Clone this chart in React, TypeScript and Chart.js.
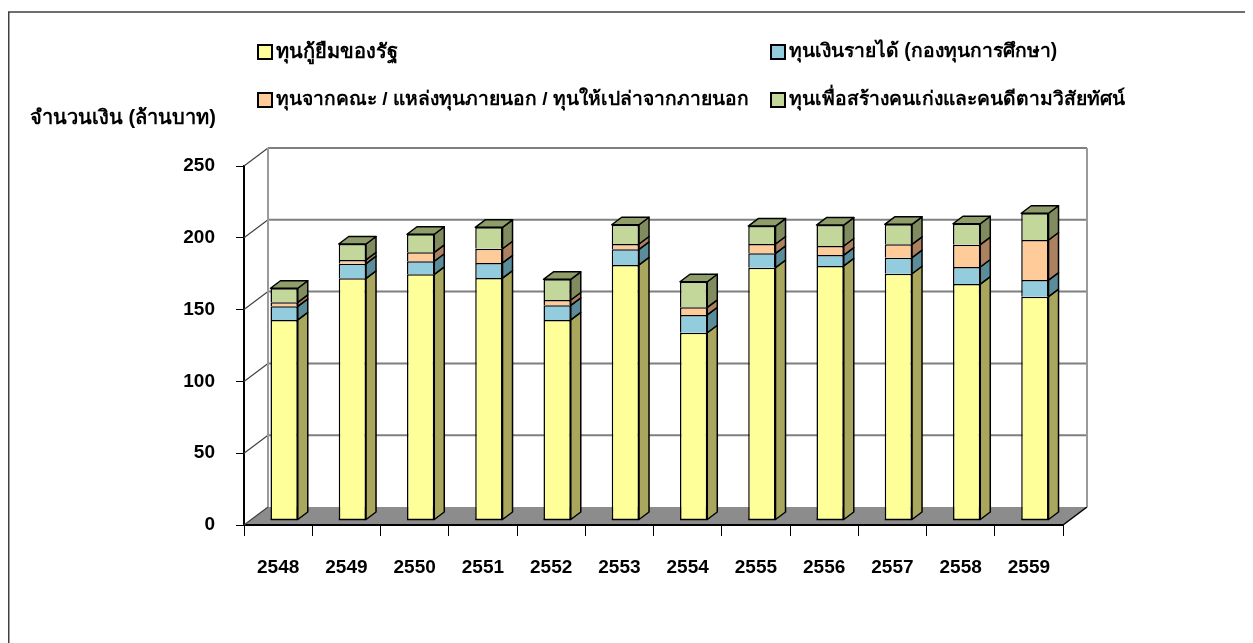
import React, { useEffect, useRef } from "react";
import { Chart, registerables } from "chart.js";

Chart.register(...registerables);

const categories = ["2548", "2549", "2550", "2551", "2552", "2553", "2554", "2555", "2556", "2557", "2558", "2559"];
const loanFund = [139.3, 168.3, 171.1, 168.5, 139.3, 177.6, 130.4, 175.7, 176.9, 171.5, 164.3, 155.5];
const incomeFund = [9.5, 10.2, 9.1, 10.5, 10.2, 10.9, 12.4, 10.0, 7.6, 11.2, 11.9, 11.6];
const externalFund = [2.8, 2.6, 6.2, 9.9, 3.7, 3.7, 5.3, 6.5, 6.3, 9.3, 15.5, 27.9];
const goodPeopleFund = [9.8, 11.1, 12.6, 14.9, 14.4, 13.4, 17.8, 12.5, 14.6, 13.9, 14.6, 18.6];
const yTicks = [0, 50, 100, 150, 200, 250];

const seriesLabels = [
  "ทุนกู้ยืมของรัฐ",
  "ทุนเงินรายได้ (กองทุนการศึกษา)",
  "ทุนจากคณะ / แหล่งทุนภายนอก / ทุนให้เปล่าจากภายนอก",
  "ทุนเพื่อสร้างคนเก่งและคนดีตามวิสัยทัศน์",
];
const yTitle = "จำนวนเงิน (ล้านบาท)";

const frontColors = ["#FFFF99", "#93CDDD", "#FFCC99", "#C4D79B"];
const sideColors = ["#A9A75E", "#5B8C9A", "#AB8160", "#808C60"];
const topColor = "#8F9D6A";

const FONT = '"Liberation Sans", Arial, sans-serif';

const W = 1245;
const H = 635;
const DX = 24;
const DY = 18;
const BX = 10;
const BY = 7.5;

const excel3d = {
  id: "excel3d",
  beforeDatasetsDraw(chart: any) {
    const { ctx, chartArea: a, scales } = chart;
    const y = scales.y;
    ctx.save();
    // frame
    ctx.strokeStyle = "#404040";
    ctx.lineWidth = 1.5;
    ctx.beginPath();
    ctx.moveTo(0.75, H);
    ctx.lineTo(0.75, 4);
    ctx.lineTo(W, 4);
    ctx.stroke();
    // floor
    ctx.fillStyle = "#8C8C8C";
    ctx.beginPath();
    ctx.moveTo(a.left, a.bottom);
    ctx.lineTo(a.right, a.bottom);
    ctx.lineTo(a.right + DX, a.bottom - DY);
    ctx.lineTo(a.left + DX, a.bottom - DY);
    ctx.closePath();
    ctx.fill();
    ctx.strokeStyle = "#000";
    ctx.lineWidth = 1.5;
    ctx.beginPath();
    ctx.moveTo(a.right, a.bottom);
    ctx.lineTo(a.right + DX, a.bottom - DY);
    ctx.stroke();
    ctx.strokeStyle = "#000";
    ctx.lineWidth = 2;
    ctx.beginPath();
    ctx.moveTo(a.left, a.bottom);
    ctx.lineTo(a.right, a.bottom);
    ctx.stroke();
    // back wall gridlines
    yTicks.forEach((v) => {
      const py = y.getPixelForValue(v);
      if (v > 0) {
        ctx.strokeStyle = "#7F7F7F";
        ctx.lineWidth = 2;
        ctx.beginPath();
        ctx.moveTo(a.left + DX, py - DY);
        ctx.lineTo(a.right + DX, py - DY);
        ctx.stroke();
      }
      ctx.strokeStyle = "#404040";
      ctx.lineWidth = 1.2;
      ctx.beginPath();
      ctx.moveTo(a.left, py);
      ctx.lineTo(a.left + DX, py - DY);
      ctx.stroke();
    });
    // back wall verticals
    ctx.strokeStyle = "#9A9A9A";
    ctx.lineWidth = 2;
    ctx.beginPath();
    ctx.moveTo(a.left + DX, a.top - DY);
    ctx.lineTo(a.left + DX, a.bottom - DY);
    ctx.moveTo(a.right + DX, a.top - DY);
    ctx.lineTo(a.right + DX, a.bottom - DY);
    ctx.stroke();
    ctx.restore();
    ctx.save();
    ctx.translate(6, -5);
  },
  afterDatasetsDraw(chart: any) {
    const { ctx } = chart;
    const n = chart.data.datasets.length;
    chart.data.datasets.forEach((_ds: any, di: number) => {
      const meta = chart.getDatasetMeta(di);
      meta.data.forEach((el: any) => {
        const { x, y, base, width } = el.getProps(["x", "y", "base", "width"], true);
        const l = x - width / 2;
        const r = x + width / 2;
        ctx.lineWidth = 1.5;
        ctx.strokeStyle = "#000";
        ctx.lineJoin = "round";
        ctx.fillStyle = sideColors[di];
        ctx.beginPath();
        ctx.moveTo(r, y);
        ctx.lineTo(r + BX, y - BY);
        ctx.lineTo(r + BX, base - BY);
        ctx.lineTo(r, base);
        ctx.closePath();
        ctx.fill();
        ctx.stroke();
        if (di === n - 1) {
          ctx.fillStyle = topColor;
          ctx.beginPath();
          ctx.moveTo(l, y);
          ctx.lineTo(l + BX, y - BY);
          ctx.lineTo(r + BX, y - BY);
          ctx.lineTo(r, y);
          ctx.closePath();
          ctx.fill();
          ctx.stroke();
        }
        if (di === 0) {
          ctx.beginPath();
          ctx.moveTo(l, base);
          ctx.lineTo(r, base);
          ctx.stroke();
        }
      });
    });
    ctx.restore();
  },
  afterDraw(chart: any) {
    const { ctx } = chart;
    ctx.save();
    ctx.textBaseline = "middle";
    ctx.textAlign = "left";
    ctx.fillStyle = "#000";
    ctx.font = `bold 20px ${FONT}`;
    ctx.fillText(yTitle, 22, 110);
    const pos = [
      [250, 44],
      [763, 44],
      [250, 92],
      [763, 92],
    ];
    const sizes = [20, 19.3, 19.2, 19.3];
    seriesLabels.forEach((label, i) => {
      const [lx, ly] = pos[i];
      ctx.fillStyle = frontColors[i];
      ctx.fillRect(lx, ly - 7, 14, 14);
      ctx.strokeStyle = "#000";
      ctx.lineWidth = 2;
      ctx.strokeRect(lx, ly - 7, 14, 14);
      ctx.fillStyle = "#000";
      ctx.font = `bold ${sizes[i]}px ${FONT}`;
      ctx.fillText(label, lx + 18, ly);
    });
    ctx.restore();
  },
};

export default function App() {
  const ref = useRef<HTMLCanvasElement>(null);
  useEffect(() => {
    if (!ref.current) return;
    const seriesData = [loanFund, incomeFund, externalFund, goodPeopleFund];
    const chart = new Chart(ref.current, {
      type: "bar",
      data: {
        labels: categories,
        datasets: seriesData.map((d, i) => ({
          label: seriesLabels[i],
          data: d,
          backgroundColor: frontColors[i],
          borderColor: "#000",
          borderWidth: 1.5,
          barPercentage: 0.4,
          categoryPercentage: 1,
          clip: false as any,
        })),
      },
      options: {
        responsive: false,
        animation: false,
        events: [],
        layout: { padding: { left: 0, top: 158, right: 190, bottom: 38 } },
        plugins: { legend: { display: false }, title: { display: false }, tooltip: { enabled: false } },
        scales: {
          x: {
            stacked: true,
            grid: { display: true, drawOnChartArea: false, drawTicks: true, tickLength: 11, color: "#000", lineWidth: 1, offset: true },
            border: { display: true, color: "#000", width: 2 },
            ticks: { color: "#000", font: { family: FONT, size: 19, weight: "bold" }, padding: 20, maxRotation: 0 },
            afterFit: (s: any) => {
              s.height = 80;
            },
          },
          y: {
            stacked: true,
            min: 0,
            max: 250,
            ticks: { stepSize: 50, color: "#000", font: { family: FONT, size: 19, weight: "bold" }, padding: 21 },
            grid: { display: true, drawOnChartArea: false, drawTicks: true, tickLength: 8, color: "#000", lineWidth: 1 },
            border: { display: true, color: "#000", width: 2 },
            afterFit: (s: any) => {
              s.width = 236;
            },
          },
        },
      },
      plugins: [excel3d],
    });
    return () => chart.destroy();
  }, []);
  return (
    <div style={{ width: W, height: H }}>
      <canvas ref={ref} width={W} height={H} style={{ display: "block" }} />
    </div>
  );
}
